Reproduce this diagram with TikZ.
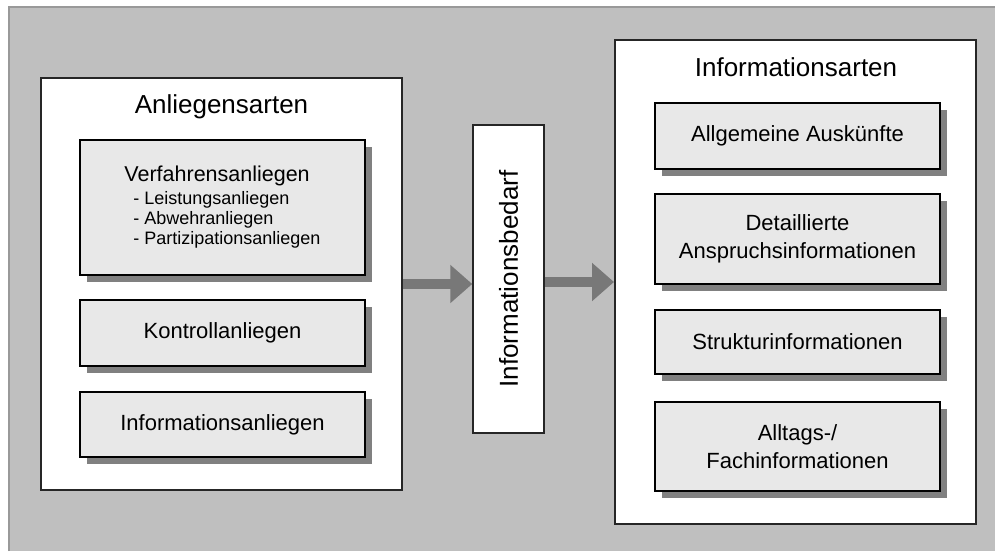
\documentclass[tikz,border=0pt]{standalone}
\usepackage{fontspec}
\setmainfont{Liberation Sans}
\usepackage{tikz}
\usetikzlibrary{shapes.geometric, arrows.meta, shadows}
\definecolor{hintergrund}{HTML}{BFBFBF}
\definecolor{randgrau}{HTML}{999999}
\tikzstyle{rahmen} = [rectangle, draw=black!85, line width=2pt, fill=white]
\tikzstyle{titel} = [font=\fontsize{26}{30}\selectfont, anchor=base]
\tikzstyle{feld} = [rectangle, minimum width=285pt, text centered, align=center, draw=black, line width=1.5pt, fill=black!9, font=\fontsize{22}{28.5}\selectfont, drop shadow={shadow xshift=7pt, shadow yshift=-7pt, fill=black!50, opacity=1}]
\tikzstyle{pfeil} = [line width=10pt, draw=black!53, -{Triangle[length=22pt, width=37pt]}]

\begin{document}
\begin{tikzpicture}[x=1pt, y=-1pt, node distance=103pt]

    \useasboundingbox (0,0) rectangle (995,551);
    \fill [hintergrund] (9,7) rectangle (995,551);
    \draw [randgrau, line width=1.5pt] (9,551) -- (9,7) -- (995,7);

    \node (anliegen) [rahmen, minimum width=361pt, minimum height=412pt] at (221.5,284) {};
    \node (anliegentitel) [titel] at (221.5,113) {Anliegensarten};
    \node (verfahren) [feld, minimum height=135pt, align=left, font=\fontsize{18}{20}\selectfont] at (222.5,207.5) {{\fontsize{21.5}{25}\selectfont Verfahrensanliegen}\\[3pt]\hspace*{9pt}- Leistungsanliegen\\ \hspace*{9pt}- Abwehranliegen\\ \hspace*{9pt}- Partizipationsanliegen};
    \node (kontroll) [feld, minimum height=66pt, below of=verfahren, yshift=-22.5pt] {Kontrollanliegen};
    \node (infoanliegen) [feld, minimum height=65pt, below of=kontroll, yshift=11.5pt] {Informationsanliegen};

    \node (bedarf) [rahmen, minimum width=71pt, minimum height=308pt, line width=1.5pt, label={[rotate=90, font=\fontsize{26}{30}\selectfont]center:Informationsbedarf}] at (508.5,279) {};

    \node (arten) [rahmen, minimum width=361pt, minimum height=484pt] at (795.5,282) {};
    \node (artentitel) [titel] at (796,77) {Informationsarten};
    \node (allgemein) [feld, minimum height=66pt] at (797.5,136) {Allgemeine Auskünfte};
    \node (anspruch) [feld, minimum height=90pt, below of=allgemein] {Detaillierte\\Anspruchsinformationen};
    \node (struktur) [feld, minimum height=64pt, below of=anspruch] {Strukturinformationen};
    \node (alltag) [feld, minimum height=89pt, below of=struktur, yshift=-1.5pt] {Alltags-/\\Fachinformationen};

    \draw [pfeil] (anliegen.east) -- (anliegen.east -| bedarf.west);
    \draw [pfeil] (bedarf.east |- arten.west) -- (arten.west);
\end{tikzpicture}
\end{document}
